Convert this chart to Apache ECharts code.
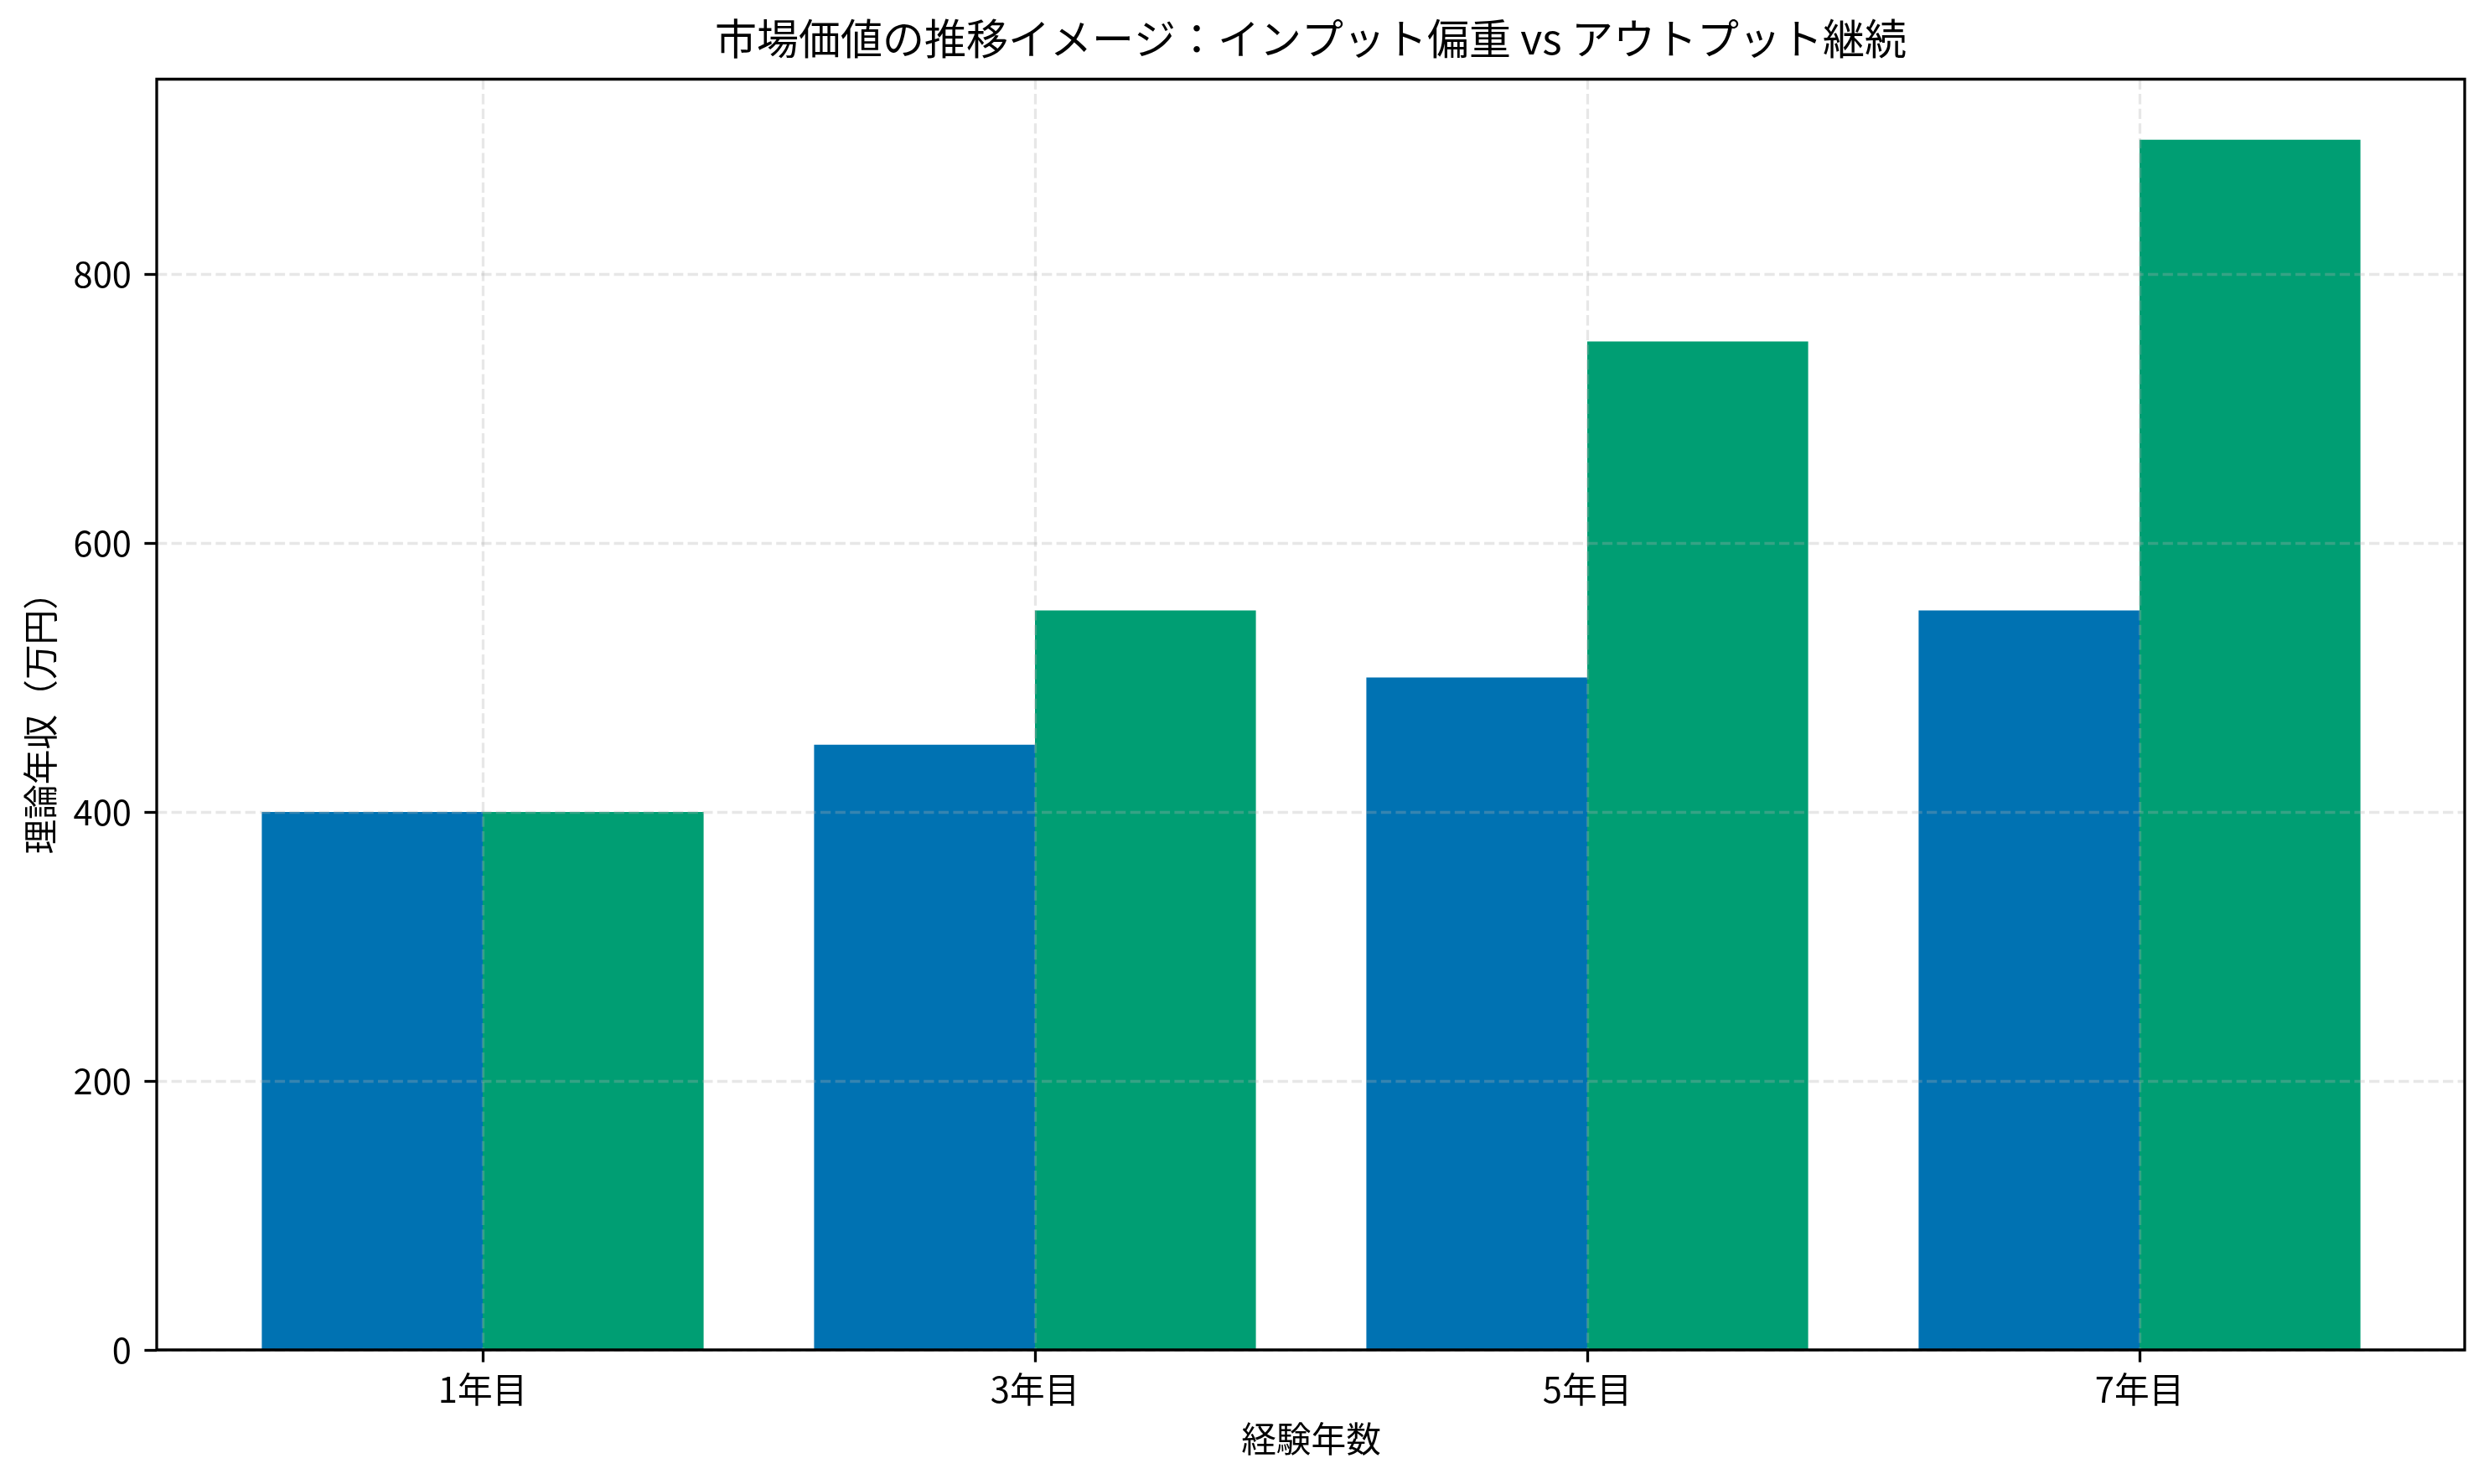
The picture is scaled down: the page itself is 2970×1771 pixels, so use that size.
<!DOCTYPE html>
<html>
<head>
<meta charset="utf-8">
<script src="https://cdn.jsdelivr.net/npm/echarts@6/dist/echarts.min.js"></script>
<style>
html,body{margin:0;padding:0;background:#fff;}
#chart{width:2970px;height:1771px;}
</style>
</head>
<body>
<div id="chart"></div>
<script>
const categories = ['1年目', '3年目', '5年目', '7年目'];
const inputHeavy = [400, 450, 500, 550];
const outputContinued = [400, 550, 750, 900];
const yTicks = [0, 200, 400, 600, 800];
const titleText = '市場価値の推移イメージ：インプット偏重 vs アウトプット継続';
const xName = '経験年数';
const yName = '理論年収（万円）';

const FONT = '"Noto Sans CJK JP", "Noto Sans", sans-serif';
const gridColor = 'rgba(176,176,176,0.3)';
const dash = [12.3, 5.3];
const chart = echarts.init(document.getElementById('chart'), null, {renderer: 'canvas'});

const TOP = 94.5, BOTTOM = 160;
const option = {
  backgroundColor: '#fff',
  animation: false,
  title: {
    text: titleText,
    left: 1564,
    top: 21,
    padding: 0,
    textAlign: 'center',
    textStyle: {fontFamily: FONT, fontSize: 50, fontWeight: 'normal', color: '#000', lineHeight: 50}
  },
  grid: [
    {left: 187, right: 29, top: TOP, bottom: BOTTOM, show: true, borderColor: '#000', borderWidth: 3.3, z: 5, backgroundColor: 'transparent'},
    {left: 576, right: 417, top: TOP, bottom: BOTTOM}
  ],
  xAxis: [
    {gridIndex: 0, type: 'value', min: 0, max: 1, show: false},
    {gridIndex: 1, type: 'category', data: categories, boundaryGap: false, z: 3,
     name: xName, nameLocation: 'middle', nameGap: 85,
     nameTextStyle: {fontFamily: FONT, fontSize: 41.7, color: '#000'},
     axisLine: {show: false},
     axisTick: {show: true, length: 14.6, lineStyle: {color: '#000', width: 3.3}},
     axisLabel: {margin: 26, fontFamily: FONT, fontSize: 41.7, color: '#000'},
     splitLine: {show: true, lineStyle: {color: gridColor, width: 3.3, type: dash}}
    }
  ],
  yAxis: [
    {gridIndex: 0, type: 'value', min: 0, max: 945, interval: 200, z: 3,
     name: yName, nameLocation: 'middle', nameGap: 118, nameRotate: 90,
     nameTextStyle: {fontFamily: FONT, fontSize: 41.7, color: '#000'},
     axisLine: {show: false},
     axisTick: {show: true, length: 14.6, lineStyle: {color: '#000', width: 3.3}, customValues: yTicks},
     axisLabel: {margin: 30, fontFamily: FONT, fontSize: 41.7, color: '#000', customValues: yTicks},
     splitLine: {show: true, lineStyle: {color: gridColor, width: 3.3, type: dash}}
    },
    {gridIndex: 1, type: 'value', min: 0, max: 945, show: false, splitLine: {show: false}}
  ],
  series: [
    {type: 'bar', name: 'インプット偏重', xAxisIndex: 1, yAxisIndex: 1, data: inputHeavy,
     barCategoryGap: '20%', barGap: '0%', clip: false,
     itemStyle: {color: '#0072B2'}},
    {type: 'bar', name: 'アウトプット継続', xAxisIndex: 1, yAxisIndex: 1, data: outputContinued,
     barCategoryGap: '20%', barGap: '0%', clip: false,
     itemStyle: {color: '#009E73'}}
  ]
};
chart.setOption(option);
</script>
</body>
</html>
